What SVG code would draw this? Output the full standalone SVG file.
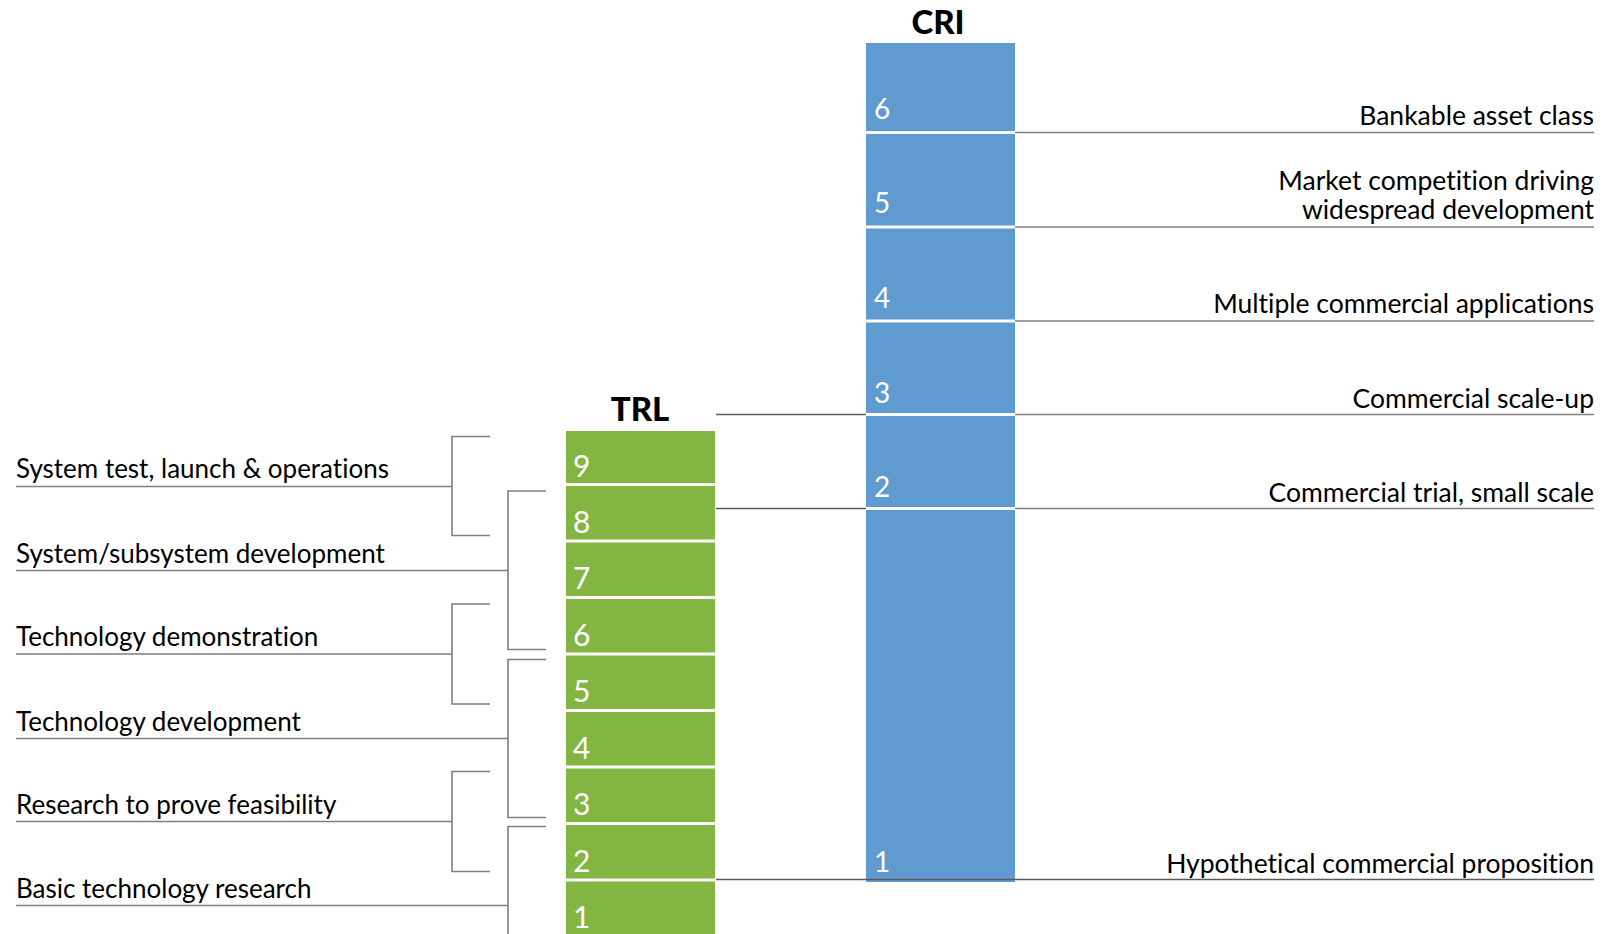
<svg xmlns="http://www.w3.org/2000/svg" width="1603" height="934" viewBox="0 0 1603 934">
<style>
.bg{fill:#ffffff}
.trl{fill:#83b542}
.cri{fill:#5f9ad0}
.num{font-family:Lato,"Liberation Sans",sans-serif;fill:#ffffff}
.tn{font-size:30px}
.cn{font-size:28px}
.title{font-family:Lato,"Liberation Sans",sans-serif;font-weight:900;font-size:33px;fill:#000000;text-anchor:middle}
.lab{font-family:Lato,"Liberation Sans",sans-serif;font-size:26px;fill:#000000;font-variant-ligatures:no-common-ligatures}
.r{text-anchor:end;font-size:26.5px}
.ln{fill:none;stroke:#7f7f7f;stroke-width:1.6}
.dk{stroke:#5a5a5a}
</style>
<rect class="bg" x="0" y="0" width="1603" height="934"/>
<text class="title" x="938" y="34">CRI</text>
<text class="title" x="640" y="421">TRL</text>

<g id="cri-6"><rect class="cri" x="866" y="43" width="149" height="88"/><text class="num cn" x="874" y="119">6</text></g>
<g id="cri-5"><rect class="cri" x="866" y="134" width="149" height="91.5"/><text class="num cn" x="874" y="213">5</text></g>
<g id="cri-4"><rect class="cri" x="866" y="228.5" width="149" height="91"/><text class="num cn" x="874" y="308">4</text></g>
<g id="cri-3"><rect class="cri" x="866" y="322.5" width="149" height="90.5"/><text class="num cn" x="874" y="402.5">3</text></g>
<g id="cri-2"><rect class="cri" x="866" y="416" width="149" height="91"/><text class="num cn" x="874" y="496.5">2</text></g>
<g id="cri-1"><rect class="cri" x="866" y="510" width="149" height="372"/><text class="num cn" x="874" y="871.5">1</text></g>

<g id="trl-9"><rect class="trl" x="566" y="431" width="149" height="52"/><text class="num tn" x="573" y="476.5">9</text></g>
<g id="trl-8"><rect class="trl" x="566" y="486" width="149" height="53.5"/><text class="num tn" x="573" y="532.5">8</text></g>
<g id="trl-7"><rect class="trl" x="566" y="542.5" width="149" height="53.5"/><text class="num tn" x="573" y="589">7</text></g>
<g id="trl-6"><rect class="trl" x="566" y="599" width="149" height="53.5"/><text class="num tn" x="573" y="645.5">6</text></g>
<g id="trl-5"><rect class="trl" x="566" y="655.5" width="149" height="53.5"/><text class="num tn" x="573" y="702">5</text></g>
<g id="trl-4"><rect class="trl" x="566" y="712" width="149" height="53.5"/><text class="num tn" x="573" y="758.5">4</text></g>
<g id="trl-3"><rect class="trl" x="566" y="768.5" width="149" height="53.5"/><text class="num tn" x="573" y="815">3</text></g>
<g id="trl-2"><rect class="trl" x="566" y="825" width="149" height="53.5"/><text class="num tn" x="573" y="871.5">2</text></g>
<g id="trl-1"><rect class="trl" x="566" y="881.5" width="149" height="55"/><text class="num tn" x="573" y="928">1</text></g>

<g id="connectors">
<path class="ln" d="M1015 132.5H1594M1015 227H1594M1015 321H1594M1015 414.5H1594M1015 508.5H1594"/>
<path class="ln dk" d="M716 414.5H866M716 508.5H866M716 879.5H1594"/>
<path class="ln" d="M16 486.5H452M490 436.5H452V535.5H490"/>
<path class="ln" d="M16 570.5H508M546 491H508V649.5H546"/>
<path class="ln" d="M16 654H452M490 604H452V704H490"/>
<path class="ln" d="M16 738.5H508M546 659.5H508V817.5H546"/>
<path class="ln" d="M16 821.5H452M490 771.5H452V871.5H490"/>
<path class="ln" d="M16 905.5H508M546 826.5H508V936"/>
</g>

<g id="labels-left">
<text class="lab" x="16" y="477.5">System test, launch &amp; operations</text>
<text class="lab" x="16" y="563">System/subsystem development</text>
<text class="lab" x="16" y="645.5">Technology demonstration</text>
<text class="lab" x="16" y="730.5">Technology development</text>
<text class="lab" x="16" y="814">Research to prove feasibility</text>
<text class="lab" x="16" y="898">Basic technology research</text>
</g>
<g id="labels-right">
<text class="lab r" x="1594" y="125">Bankable asset class</text>
<text class="lab r" x="1594" y="190">Market competition driving</text>
<text class="lab r" x="1594" y="219">widespread development</text>
<text class="lab r" x="1594" y="312.5">Multiple commercial applications</text>
<text class="lab r" x="1594" y="407.5">Commercial scale-up</text>
<text class="lab r" x="1594" y="502">Commercial trial, small scale</text>
<text class="lab r" x="1594" y="872.5">Hypothetical commercial proposition</text>
</g>
</svg>
